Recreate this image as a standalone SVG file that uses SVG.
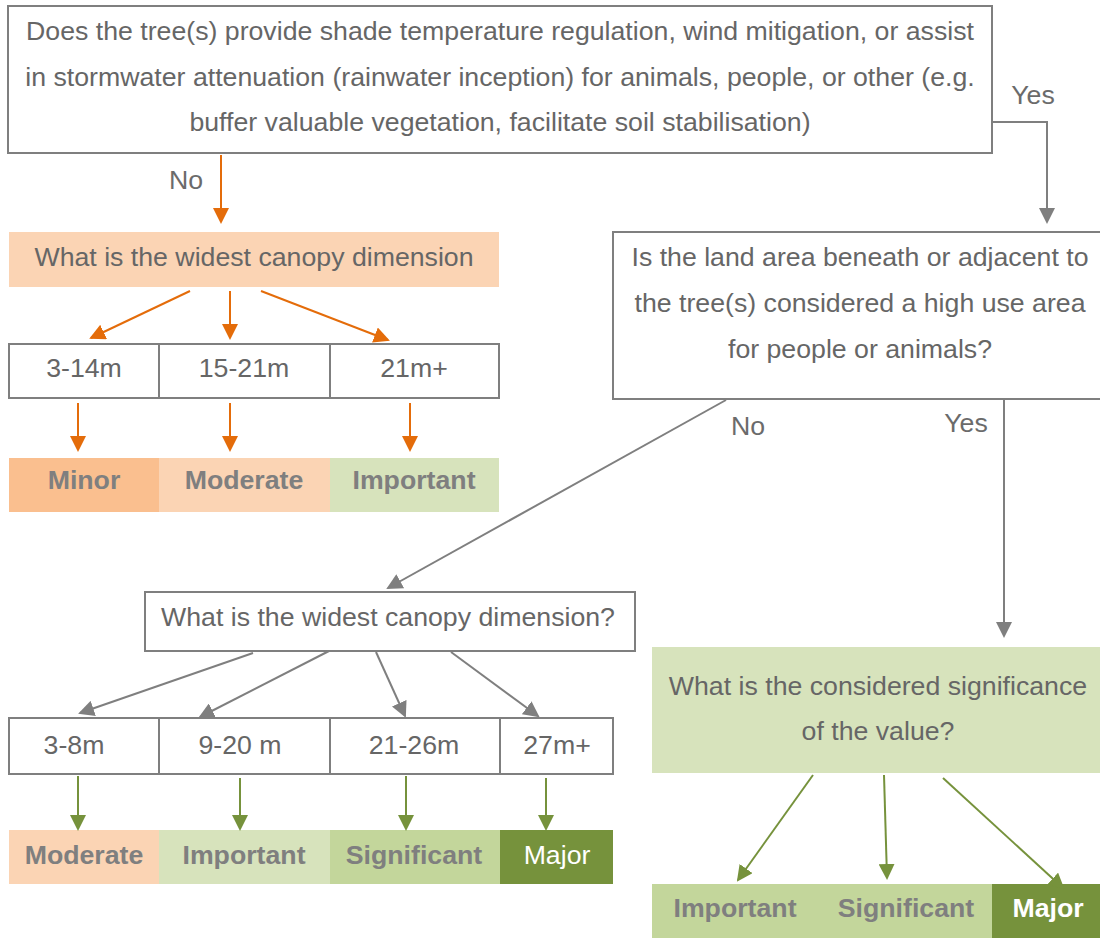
<svg xmlns="http://www.w3.org/2000/svg" width="1100" height="938" viewBox="0 0 1100 938">
  <style>
    .t { font-family: "Liberation Sans", Arial, sans-serif; font-size: 26.7px; fill: #666666; text-anchor: middle; }
    .lbl { font-family: "Liberation Sans", Arial, sans-serif; font-size: 26.7px; fill: #6b6b6b; text-anchor: middle; }
    .b { font-family: "Liberation Sans", Arial, sans-serif; font-size: 26.7px; font-weight: bold; fill: #7f7f7f; text-anchor: middle; }
    .w { font-family: "Liberation Sans", Arial, sans-serif; font-size: 26.7px; fill: #ffffff; text-anchor: middle; }
    .wb { font-family: "Liberation Sans", Arial, sans-serif; font-size: 26.7px; font-weight: bold; fill: #ffffff; text-anchor: middle; }
    .box { fill: #ffffff; stroke: #7f7f7f; stroke-width: 2; }
    .div { stroke: #7f7f7f; stroke-width: 2; }
    .or { fill: none; stroke: #e46c0a; stroke-width: 2; marker-end: url(#aOr); }
    .gr { fill: none; stroke: #7f7f7f; stroke-width: 2; marker-end: url(#aGr); }
    .gn { fill: none; stroke: #76923c; stroke-width: 2; marker-end: url(#aGn); }
  </style>
  <defs>
    <marker id="aOr" viewBox="0 0 16 16" refX="14" refY="8" markerWidth="16" markerHeight="16" markerUnits="userSpaceOnUse" orient="auto">
      <path d="M0,0 L16,8 L0,16 z" fill="#e46c0a"/>
    </marker>
    <marker id="aGr" viewBox="0 0 16 16" refX="14" refY="8" markerWidth="16" markerHeight="16" markerUnits="userSpaceOnUse" orient="auto">
      <path d="M0,0 L16,8 L0,16 z" fill="#7f7f7f"/>
    </marker>
    <marker id="aGn" viewBox="0 0 16 16" refX="14" refY="8" markerWidth="16" markerHeight="16" markerUnits="userSpaceOnUse" orient="auto">
      <path d="M0,0 L16,8 L0,16 z" fill="#76923c"/>
    </marker>
  </defs>

  <!-- question 1 -->
  <g id="q1">
    <rect class="box" x="8" y="6" width="984" height="147"/>
    <text class="t" x="500" y="40">Does the tree(s) provide shade temperature regulation, wind mitigation, or assist</text>
    <text class="t" x="500" y="86">in stormwater attenuation (rainwater inception) for animals, people, or other (e.g.</text>
    <text class="t" x="500" y="131">buffer valuable vegetation, facilitate soil stabilisation)</text>
  </g>

  <!-- branch: No -->
  <g id="q-canopy-a">
    <rect x="9" y="232" width="490" height="55" fill="#fbd4b4"/>
    <text class="t" x="254" y="266">What is the widest canopy dimension</text>
  </g>
  <g id="sizes-a">
    <rect class="box" x="9" y="344" width="490" height="54"/>
    <line class="div" x1="159" y1="344" x2="159" y2="398"/>
    <line class="div" x1="330" y1="344" x2="330" y2="398"/>
    <text class="t" x="84" y="377">3-14m</text>
    <text class="t" x="244" y="377">15-21m</text>
    <text class="t" x="414" y="377">21m+</text>
  </g>
  <g id="results-a">
    <rect x="9" y="458" width="150" height="54" fill="#fabf8f"/>
    <rect x="159" y="458" width="171" height="54" fill="#fbd4b4"/>
    <rect x="330" y="458" width="169" height="54" fill="#d7e3bc"/>
    <text class="b" x="84" y="489">Minor</text>
    <text class="b" x="244" y="489">Moderate</text>
    <text class="b" x="414" y="489">Important</text>
  </g>

  <!-- branch: Yes -->
  <g id="q2">
    <rect class="box" x="613" y="232" width="500" height="167"/>
    <text class="t" x="860" y="266">Is the land area beneath or adjacent to</text>
    <text class="t" x="860" y="312">the tree(s) considered a high use area</text>
    <text class="t" x="860" y="358">for people or animals?</text>
  </g>
  <g id="q-canopy-b">
    <rect class="box" x="145" y="592" width="490" height="59"/>
    <text class="t" x="388" y="626">What is the widest canopy dimension?</text>
  </g>
  <g id="sizes-b">
    <rect class="box" x="9" y="718" width="604" height="56"/>
    <line class="div" x1="159" y1="718" x2="159" y2="774"/>
    <line class="div" x1="330" y1="718" x2="330" y2="774"/>
    <line class="div" x1="500" y1="718" x2="500" y2="774"/>
    <text class="t" x="74" y="754">3-8m</text>
    <text class="t" x="240" y="754">9-20 m</text>
    <text class="t" x="414" y="754">21-26m</text>
    <text class="t" x="557" y="754">27m+</text>
  </g>
  <g id="results-b">
    <rect x="9" y="830" width="150" height="54" fill="#fbd4b4"/>
    <rect x="159" y="830" width="171" height="54" fill="#d7e3bc"/>
    <rect x="330" y="830" width="170" height="54" fill="#c3d69b"/>
    <rect x="500" y="830" width="113" height="54" fill="#76923c"/>
    <text class="b" x="84" y="864">Moderate</text>
    <text class="b" x="244" y="864">Important</text>
    <text class="b" x="414" y="864">Significant</text>
    <text class="w" x="557" y="864">Major</text>
  </g>
  <g id="q-significance">
    <rect x="652" y="647" width="448" height="126" fill="#d7e3bc"/>
    <text class="t" x="878" y="695">What is the considered significance</text>
    <text class="t" x="878" y="740">of the value?</text>
  </g>
  <g id="results-c">
    <rect x="652" y="884" width="340" height="54" fill="#c3d69b"/>
    <rect x="992" y="884" width="108" height="54" fill="#76923c"/>
    <text class="b" x="735" y="917">Important</text>
    <text class="b" x="906" y="917">Significant</text>
    <text class="wb" x="1048" y="917">Major</text>
  </g>

  <!-- connectors -->
  <g id="connectors">
    <path class="or" d="M221,155 V222"/>
    <path class="gr" d="M992,122 H1047 V222"/>
    <path class="or" d="M190,291 L91,338"/>
    <path class="or" d="M230,291 V338"/>
    <path class="or" d="M261,291 L388,340"/>
    <path class="or" d="M78,403 V450"/>
    <path class="or" d="M230,403 V450"/>
    <path class="or" d="M410,403 V450"/>
    <path class="gr" d="M726,400 L388,588"/>
    <path class="gr" d="M1004,400 V636"/>
    <path class="gr" d="M253,653 L80,713"/>
    <path class="gr" d="M329,651 L200,717"/>
    <path class="gr" d="M376,652 L405,716"/>
    <path class="gr" d="M451,652 L538,716"/>
    <path class="gn" d="M78,776 V829"/>
    <path class="gn" d="M240,778 V829"/>
    <path class="gn" d="M406,776 V829"/>
    <path class="gn" d="M546,778 V829"/>
    <path class="gn" d="M813,775 L738,880"/>
    <path class="gn" d="M884,775 L887,878"/>
    <path class="gn" d="M943,778 L1063,888"/>
  </g>

  <!-- branch labels -->
  <g id="labels">
    <text class="lbl" x="186" y="189">No</text>
    <text class="lbl" x="1033" y="104">Yes</text>
    <text class="lbl" x="748" y="435">No</text>
    <text class="lbl" x="966" y="432">Yes</text>
  </g>
</svg>
